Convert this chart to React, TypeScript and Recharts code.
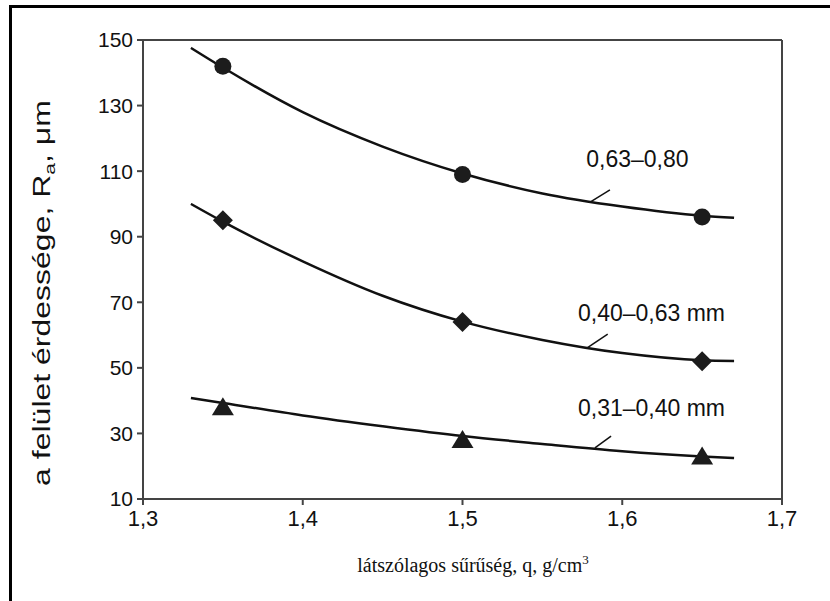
import React from "react";
import { ComposedChart, Line, Scatter, XAxis, YAxis, ReferenceLine, ReferenceDot, Label } from "recharts";

// measured points (marker positions)
const markerX = [1.35, 1.5, 1.65];
const coarseRa = [142, 109, 96];
const mediumRa = [95, 64, 52];
const fineRa = [38, 28, 23];

// fitted curves
const curveX = [1.33, 1.35, 1.4, 1.45, 1.5, 1.55, 1.6, 1.65, 1.67];
const coarseCurve = [147.6, 141.6, 128, 117.5, 109.3, 103.2, 99.2, 96.4, 95.8];
const mediumCurve = [100, 94.6, 82.5, 72, 64.1, 58.5, 54.5, 52.3, 52.1];
const fineCurve = [40.8, 39.3, 35.5, 32.2, 29.2, 26.8, 24.6, 23.0, 22.5];

const xTicks = [1.3, 1.4, 1.5, 1.6, 1.7];
const yTicks = [10, 30, 50, 70, 90, 110, 130, 150];
const seriesNames = ["0,63–0,80", "0,40–0,63 mm", "0,31–0,40 mm"];

const toPoints = (xs: number[], ys: number[]) => xs.map((x, i) => ({ x, y: ys[i] }));

const INK = "#111";
const AXIS = "#444";
const SANS = "'Liberation Sans', Arial, sans-serif";
const SERIF = "'Liberation Serif', 'Times New Roman', serif";

const CircleMark = (p: any) => <circle cx={p.cx} cy={p.cy} r={8.5} fill="#1c1c1c" />;
const DiamondMark = (p: any) => {
  const s = 10;
  return <polygon points={`${p.cx},${p.cy - s} ${p.cx + s},${p.cy} ${p.cx},${p.cy + s} ${p.cx - s},${p.cy}`} fill="#1c1c1c" />;
};
const TriangleMark = (p: any) => (
  <polygon points={`${p.cx},${p.cy - 10} ${p.cx + 11},${p.cy + 8} ${p.cx - 11},${p.cy + 8}`} fill="#1c1c1c" />
);

const notes = [
  { name: seriesNames[0], at: { x: 1.6095, y: 113.7 }, leader: [{ x: 1.5804, y: 100.7 }, { x: 1.5923, y: 104.3 }] },
  { name: seriesNames[1], at: { x: 1.6183, y: 66.8 }, leader: [{ x: 1.5778, y: 56.0 }, { x: 1.5909, y: 60.3 }] },
  { name: seriesNames[2], at: { x: 1.6183, y: 37.7 }, leader: [{ x: 1.5829, y: 25.6 }, { x: 1.593, y: 29.2 }] },
];

const fmt = (v: number) => String(v).replace(".", ",");

export default function App() {
  return (
    <div style={{ position: "absolute", left: 0, top: 0, width: 830, height: 601, overflow: "hidden", background: "#fff" }}>
      <div style={{ position: "absolute", left: 9, top: 5, width: 900, height: 700, borderLeft: "3px solid #000", borderTop: "3px solid #000" }} />
      <div style={{ position: "absolute", left: 0, top: 0 }}>
        <ComposedChart width={830} height={601} margin={{ top: 40, right: 48, bottom: 0, left: 0 }}>
          <XAxis
            type="number"
            dataKey="x"
            domain={[1.3, 1.7]}
            ticks={xTicks}
            tickFormatter={fmt}
            allowDataOverflow
            height={102}
            stroke={AXIS}
            strokeWidth={2}
            tickSize={6}
            tickMargin={5}
            tick={{ fontSize: 22, fill: INK, fontFamily: SANS }}
          >
            <Label
              content={() => (
                <text x={473} y={572} textAnchor="middle" fontFamily={SERIF} fontSize={20} fill={INK}>
                  látszólagos sűrűség, q, g/cm<tspan dy={-8} fontSize={13}>3</tspan>
                </text>
              )}
            />
          </XAxis>
          <YAxis
            type="number"
            dataKey="y"
            domain={[10, 150]}
            ticks={yTicks}
            allowDataOverflow
            width={143}
            stroke={AXIS}
            strokeWidth={2}
            tickSize={6}
            tickMargin={4}
            tick={{ fontSize: 21, fill: INK, fontFamily: SANS }}
          >
            <Label
              content={() => (
                <text x={0} y={0} transform="translate(50 293) scale(0.72 1) rotate(-90)" textAnchor="middle" fontFamily={SANS} fontSize={32} fill={INK}>
                  a felület érdessége, R<tspan dy={7} fontSize={21}>a</tspan>
                  <tspan dy={-7}>, μm</tspan>
                </text>
              )}
            />
          </YAxis>

          <ReferenceLine y={150} stroke={AXIS} strokeWidth={2} />
          <ReferenceLine x={1.7} stroke={AXIS} strokeWidth={2} />

          <Line data={toPoints(curveX, coarseCurve)} dataKey="y" type="monotone" stroke={INK} strokeWidth={2.5} dot={false} activeDot={false} isAnimationActive={false} />
          <Line data={toPoints(curveX, mediumCurve)} dataKey="y" type="monotone" stroke={INK} strokeWidth={2.5} dot={false} activeDot={false} isAnimationActive={false} />
          <Line data={toPoints(curveX, fineCurve)} dataKey="y" type="monotone" stroke={INK} strokeWidth={2.5} dot={false} activeDot={false} isAnimationActive={false} />

          <Scatter data={toPoints(markerX, coarseRa)} dataKey="y" shape={CircleMark} isAnimationActive={false} />
          <Scatter data={toPoints(markerX, mediumRa)} dataKey="y" shape={DiamondMark} isAnimationActive={false} />
          <Scatter data={toPoints(markerX, fineRa)} dataKey="y" shape={TriangleMark} isAnimationActive={false} />

          {notes.map((n) => (
            <ReferenceLine key={n.name + "-l"} segment={n.leader} stroke={INK} strokeWidth={1.5} />
          ))}
          {notes.map((n) => (
            <ReferenceDot
              key={n.name}
              x={n.at.x}
              y={n.at.y}
              r={0}
              fill="none"
              stroke="none"
              label={{ value: n.name, position: "center", fontSize: 23, fill: INK, fontFamily: SANS }}
            />
          ))}
        </ComposedChart>
      </div>
    </div>
  );
}
